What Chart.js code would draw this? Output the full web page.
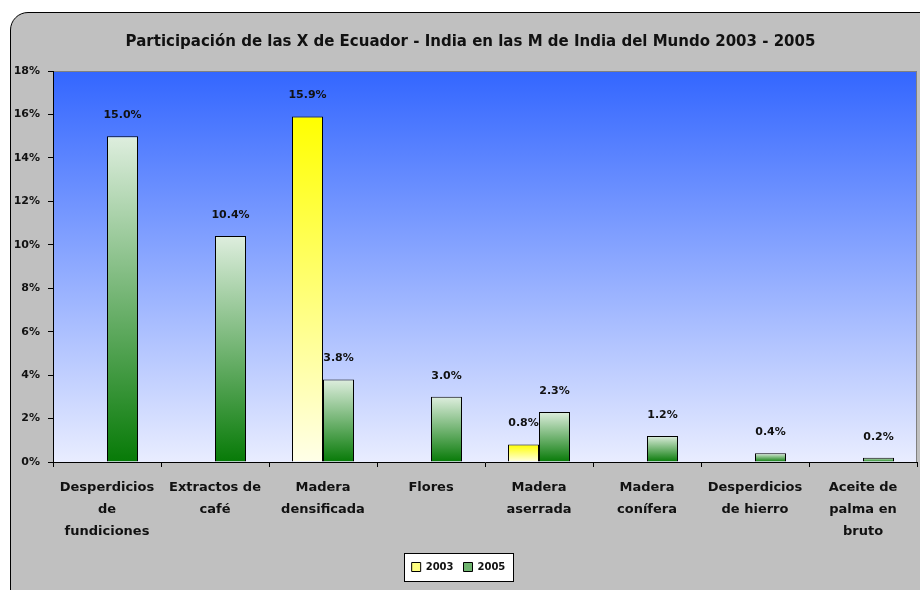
<!DOCTYPE html>
<html>
<head>
<meta charset="utf-8">
<script src="https://cdn.jsdelivr.net/npm/chart.js@4/dist/chart.umd.min.js"></script>
<style>
  html, body { margin: 0; padding: 0; background: #ffffff; width: 920px; height: 590px; overflow: hidden; }
  #frame { position: absolute; left: 10px; top: 12px; width: 940px; height: 600px; box-sizing: border-box;
           border: 1px solid #000; border-radius: 18px; background: #c0c0c0; }
  #c { position: absolute; left: 0; top: 0; }
</style>
</head>
<body>
<div id="frame"></div>
<canvas id="c" width="920" height="590"></canvas>
<script>
const categories = [
  ['Desperdicios', 'de', 'fundiciones'],
  ['Extractos de', 'café'],
  ['Madera', 'densificada'],
  ['Flores'],
  ['Madera', 'aserrada'],
  ['Madera', 'conífera'],
  ['Desperdicios', 'de hierro'],
  ['Aceite de', 'palma en', 'bruto']
];
const seriesNames = ['2003', '2005'];
const values2003 = [null, null, 15.9, null, 0.8, null, null, null];
const values2005 = [15.0, 10.4, 3.8, 3.0, 2.3, 1.2, 0.4, 0.2];
const yTicks = [0, 2, 4, 6, 8, 10, 12, 14, 16, 18];
const chartTitle = 'Participación de las X de Ecuador - India en las M de India del Mundo 2003 - 2005';

const FONT = "'DejaVu Sans', sans-serif";
const TEXT = '#111111';

function barGradient(stops) {
  return function (ctx) {
    if (ctx.type !== 'data') return stops[0];
    const chart = ctx.chart;
    const ys = chart.scales && chart.scales.y;
    if (!ys || ctx.raw == null) return stops[0];
    const top = ys.getPixelForValue(ctx.raw);
    const base = ys.getPixelForValue(0);
    if (!isFinite(top) || !isFinite(base) || Math.abs(base - top) < 0.5) return stops[1];
    const g = chart.ctx.createLinearGradient(0, top, 0, base);
    g.addColorStop(0, stops[0]);
    g.addColorStop(1, stops[1]);
    return g;
  };
}

const titleShift = {
  id: 'titleShift',
  afterLayout(chart) {
    const t = chart.titleBlock;
    if (t) { t.left += 12; t.right += 12; }
  }
};

const plotBg = {
  id: 'plotBg',
  beforeDraw(chart) {
    const { ctx, chartArea: a } = chart;
    ctx.save();
    const g = ctx.createLinearGradient(0, a.top, 0, a.bottom);
    g.addColorStop(0, '#3366ff');
    g.addColorStop(1, '#e9edff');
    ctx.fillStyle = g;
    ctx.fillRect(a.left, a.top, a.right - a.left, a.bottom - a.top);
    ctx.strokeStyle = '#808080';
    ctx.lineWidth = 1;
    ctx.beginPath();
    ctx.moveTo(a.left, a.top + 0.5);
    ctx.lineTo(a.right - 0.5, a.top + 0.5);
    ctx.lineTo(a.right - 0.5, a.bottom);
    ctx.stroke();
    // legend frame
    const lg = chart.legend;
    if (lg && lg.legendHitBoxes && lg.legendHitBoxes.length) {
      const hb = lg.legendHitBoxes;
      let l = Infinity, r = -Infinity, t = Infinity, b = -Infinity;
      hb.forEach(h => { l = Math.min(l, h.left); r = Math.max(r, h.left + h.width); t = Math.min(t, h.top); b = Math.max(b, h.top + h.height); });
      const cy = (t + b) / 2;
      ctx.fillStyle = '#ffffff';
      ctx.strokeStyle = '#000000';
      const x0 = Math.round(l - 8) + 0.5, x1 = Math.round(r + 8) + 0.5;
      const y0 = Math.round(cy - 14) + 0.5, y1 = Math.round(cy + 14) + 0.5;
      ctx.fillRect(x0, y0, x1 - x0, y1 - y0);
      ctx.strokeRect(x0, y0, x1 - x0, y1 - y0);
    }
    ctx.restore();
  }
};

const dataLabels = {
  id: 'dataLabels',
  afterDatasetsDraw(chart) {
    const ctx = chart.ctx;
    ctx.save();
    ctx.font = 'bold 11px ' + FONT;
    ctx.fillStyle = TEXT;
    ctx.textAlign = 'center';
    ctx.textBaseline = 'middle';
    chart.data.datasets.forEach((ds, di) => {
      const meta = chart.getDatasetMeta(di);
      meta.data.forEach((el, i) => {
        const v = ds.data[i];
        if (v == null) return;
        ctx.fillText(v.toFixed(1) + '%', el.x, el.y - 21);
      });
    });
    ctx.restore();
  }
};

new Chart(document.getElementById('c'), {
  type: 'bar',
  data: {
    labels: categories,
    datasets: [
      {
        label: seriesNames[0],
        data: values2003,
        backgroundColor: barGradient(['#ffff00', '#ffffe8']),
        borderColor: '#000000',
        borderWidth: 1,
        borderSkipped: 'bottom'
      },
      {
        label: seriesNames[1],
        data: values2005,
        backgroundColor: barGradient(['#deeede', '#077a07']),
        borderColor: '#000000',
        borderWidth: 1,
        borderSkipped: 'bottom'
      }
    ]
  },
  options: {
    responsive: false,
    animation: false,
    devicePixelRatio: 1,
    layout: { padding: { left: 0, right: 3, top: 0, bottom: 8 } },
    datasets: { bar: { categoryPercentage: 0.574, barPercentage: 1.0 } },
    plugins: {
      title: {
        display: true,
        text: chartTitle,
        color: TEXT,
        font: { family: FONT, size: 15, weight: 'bold', lineHeight: 1.2 },
        padding: { top: 33, bottom: 20 }
      },
      legend: {
        display: true,
        position: 'bottom',
        labels: {
          color: TEXT,
          font: { family: FONT, size: 10, weight: 'bold' },
          boxWidth: 9,
          boxHeight: 9,
          padding: 10,
          generateLabels(chart) {
            const fills = ['#ffff80', '#6fb46f'];
            return chart.data.datasets.map((ds, i) => ({
              text: ds.label,
              fillStyle: fills[i],
              strokeStyle: '#000000',
              lineWidth: 1,
              fontColor: TEXT,
              hidden: false,
              datasetIndex: i
            }));
          }
        }
      },
      tooltip: { enabled: false }
    },
    scales: {
      x: {
        grid: { display: true, drawOnChartArea: false, drawTicks: true, tickLength: 5, color: '#000000', offset: true },
        border: { display: true, color: '#000000', width: 1 },
        ticks: {
          color: TEXT,
          font: { family: FONT, size: 13, weight: 'bold', lineHeight: 1.69 },
          padding: 10,
          maxRotation: 0,
          autoSkip: false
        },
        afterFit(scale) {
          const lg = scale.chart.legend;
          const lh = lg ? lg.height : 0;
          scale.height = 590 - 462 - lh - 8;
        }
      },
      y: {
        min: 0,
        max: 18,
        afterBuildTicks(scale) { scale.ticks = yTicks.map(v => ({ value: v })); },
        grid: { display: true, drawOnChartArea: false, drawTicks: true, tickLength: 5, color: '#000000' },
        border: { display: true, color: '#000000', width: 1 },
        ticks: {
          color: TEXT,
          font: { family: FONT, size: 11, weight: 'bold' },
          padding: 8,
          callback: v => v + '%'
        },
        afterFit(scale) { scale.width = 53; }
      }
    }
  },
  plugins: [titleShift, plotBg, dataLabels]
});
</script>
</body>
</html>
